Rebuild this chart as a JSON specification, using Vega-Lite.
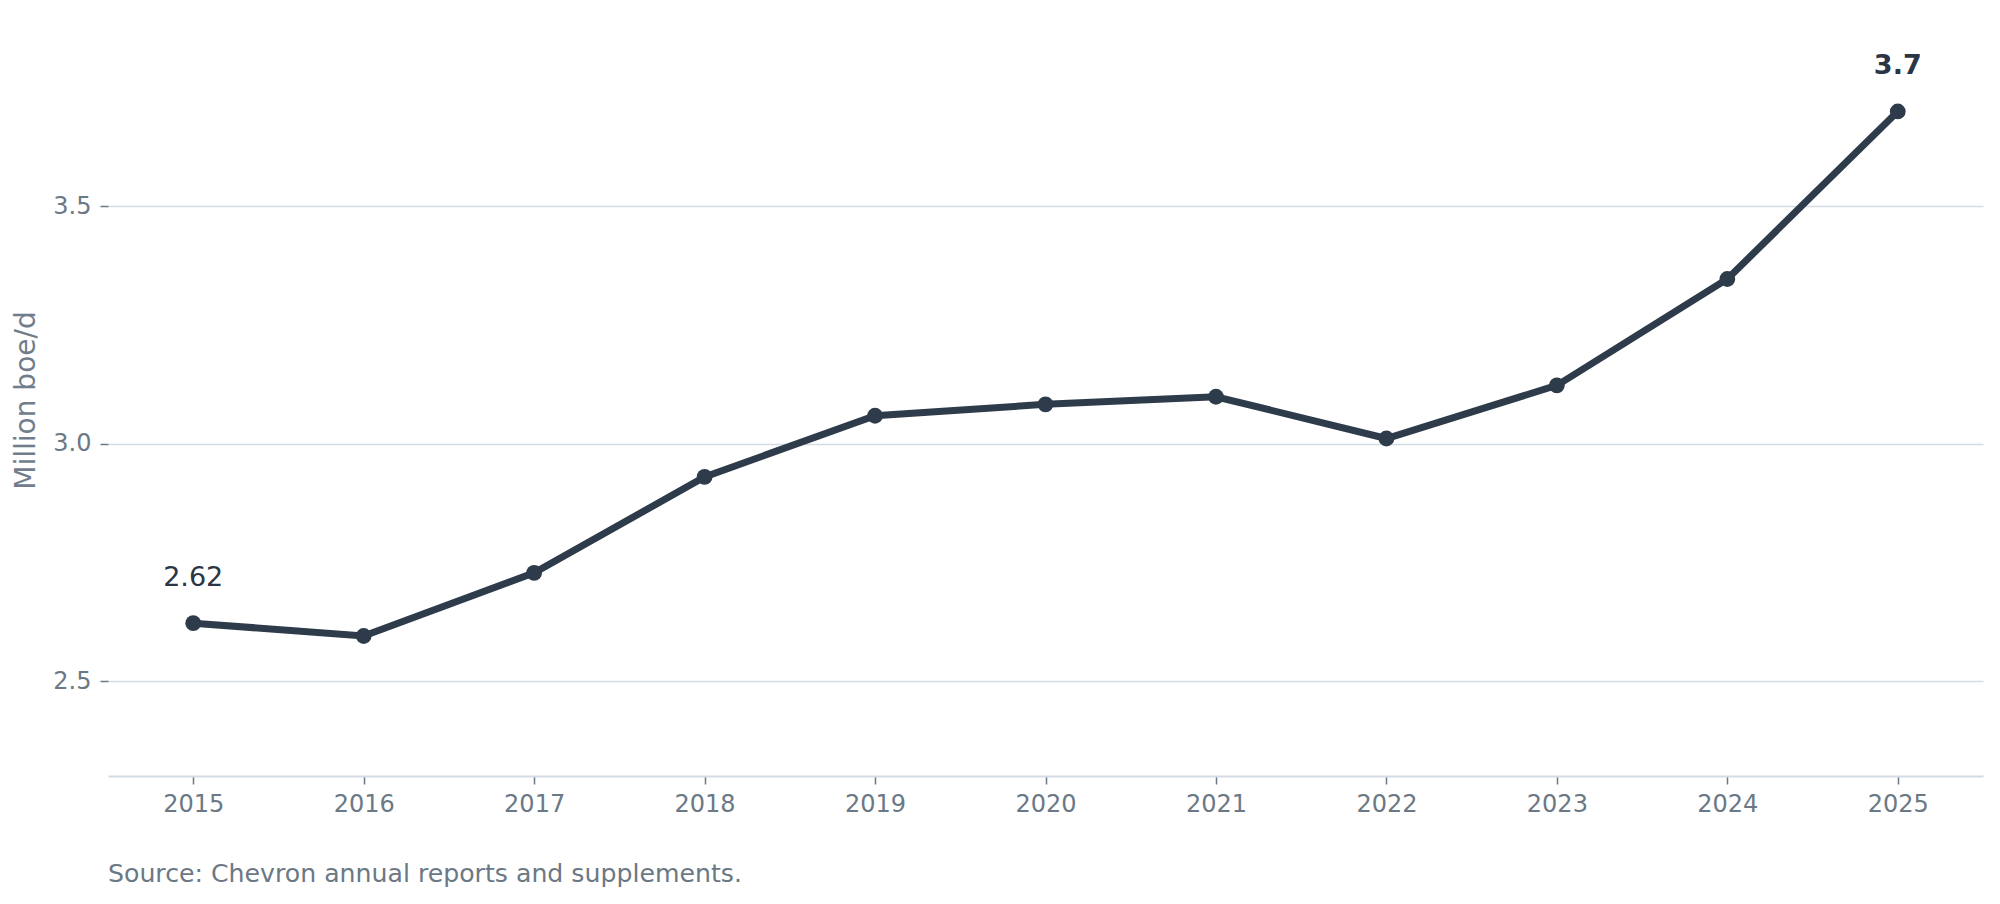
{
  "$schema": "https://vega.github.io/schema/vega-lite/v6.json",
  "autosize": "none",
  "padding": {"left": 108, "top": 64, "right": 17, "bottom": 128},
  "width": 1875,
  "height": 712,
  "background": "white",
  "config": {
    "view": {"stroke": null},
    "font": "DejaVu Sans",
    "axis": {"labelFont": "DejaVu Sans", "titleFont": "DejaVu Sans"}
  },
  "title": {
    "text": "Source: Chevron annual reports and supplements.",
    "orient": "bottom",
    "anchor": "start",
    "frame": "group",
    "font": "DejaVu Sans",
    "fontSize": 25.2,
    "fontWeight": "normal",
    "color": "#6b7885",
    "offset": 46
  },
  "data": {
    "values": [
      {"year": 2015, "value": 2.622},
      {"year": 2016, "value": 2.595},
      {"year": 2017, "value": 2.728},
      {"year": 2018, "value": 2.930},
      {"year": 2019, "value": 3.059},
      {"year": 2020, "value": 3.083},
      {"year": 2021, "value": 3.099},
      {"year": 2022, "value": 3.011},
      {"year": 2023, "value": 3.123},
      {"year": 2024, "value": 3.347},
      {"year": 2025, "value": 3.700}
    ]
  },
  "encoding": {
    "x": {
      "field": "year",
      "type": "ordinal",
      "scale": {"type": "point", "padding": 0.5},
      "axis": {
        "title": null,
        "labelAngle": 0,
        "labelFontSize": 24,
        "labelColor": "#6b7885",
        "labelPadding": 8,
        "tickSize": 8,
        "tickColor": "#6b7885",
        "tickWidth": 1.5,
        "domainColor": "#d3dbe4",
        "domainWidth": 2,
        "grid": false
      }
    },
    "y": {
      "field": "value",
      "type": "quantitative",
      "scale": {"domain": [2.3, 3.8], "nice": false, "zero": false},
      "axis": {
        "title": "Million boe/d",
        "titleFontSize": 28,
        "titleFontWeight": "normal",
        "titleColor": "#717d8b",
        "titlePadding": 12,
        "titleY": 336,
        "values": [2.5, 3.0, 3.5],
        "format": ".1f",
        "labelFontSize": 24,
        "labelColor": "#6b7885",
        "labelPadding": 9,
        "tickSize": 8,
        "tickColor": "#6b7885",
        "tickWidth": 1.5,
        "domain": false,
        "grid": true,
        "gridColor": "#d3dbe4",
        "gridWidth": 1.5
      }
    }
  },
  "layer": [
    {"mark": {"type": "line", "color": "#2e3b4a", "strokeWidth": 7}},
    {"mark": {"type": "point", "filled": true, "color": "#2e3b4a", "size": 250, "opacity": 1}},
    {
      "transform": [{"filter": "datum.year == 2015"}],
      "mark": {"type": "text", "fontSize": 27, "color": "#2a3545", "baseline": "alphabetic", "dy": -37, "font": "DejaVu Sans"},
      "encoding": {"text": {"field": "value", "type": "quantitative", "format": ".2~f"}}
    },
    {
      "transform": [{"filter": "datum.year == 2025"}],
      "mark": {"type": "text", "fontSize": 27, "fontWeight": "bold", "color": "#2a3545", "baseline": "alphabetic", "dy": -37, "font": "DejaVu Sans"},
      "encoding": {"text": {"field": "value", "type": "quantitative", "format": ".2~f"}}
    }
  ]
}
